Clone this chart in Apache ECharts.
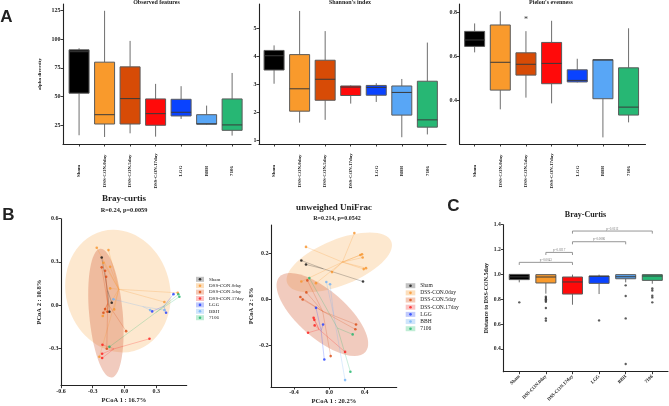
<!DOCTYPE html>
<html>
<head>
<meta charset="utf-8">
<title>Alpha and beta diversity</title>
<script src="https://cdn.jsdelivr.net/npm/echarts@6.0.0/dist/echarts.min.js"></script>
<style>
html, body { margin: 0; padding: 0; background: #fff; }
#chart { width: 669px; height: 406px; }
</style>
</head>
<body>
<div id="chart"></div>
<script>
// groups
var groupsA = ['Sham', 'DSS-CON.0day', 'DSS-CON.5day', 'DSS-CON.17day', 'LGG', 'BBH', '7106'];
var groupsC = ['Sham', 'DSS-CON.0day', 'DSS-CON.17day', 'LGG', 'BBH', '7106'];
var groupsCColour = [0, 1, 3, 4, 5, 6];

// panel A boxes: [min, q1, median, q3, max]
var observedBoxes = [
    [16.3, 52.9, 89.0, 90.6, 92.0],
    [14.8, 26.1, 34.2, 79.9, 124.6],
    [18.0, 26.1, 48.2, 75.8, 98.4],
    [15.1, 25.0, 35.1, 47.9, 61.0],
    [30.5, 33.1, 36.3, 47.6, 59.0],
    [25.5, 25.9, 26.3, 34.2, 42.1],
    [16.0, 20.6, 25.3, 47.9, 70.5]
];
var shannonBoxes = [
    [3.02, 3.51, 4.02, 4.21, 4.39],
    [1.63, 2.04, 2.84, 4.06, 5.62],
    [1.73, 2.43, 3.18, 3.86, 4.90],
    [2.31, 2.60, 2.90, 2.94, 2.96],
    [2.37, 2.61, 2.89, 2.96, 3.04],
    [1.11, 1.90, 2.71, 2.94, 3.19],
    [1.21, 1.47, 1.73, 3.11, 4.49]
];
var pielouBoxes = [
    [0.619, 0.646, 0.675, 0.714, 0.750],
    [0.361, 0.448, 0.574, 0.743, 0.805],
    [0.414, 0.516, 0.565, 0.617, 0.715],
    [0.388, 0.477, 0.569, 0.664, 0.762],
    [0.483, 0.485, 0.492, 0.540, 0.590],
    [0.234, 0.409, 0.584, 0.586, 0.586],
    [0.302, 0.335, 0.371, 0.549, 0.728]
];
var pielouOutliers = [[3, 0.771]];

// tick labels
var observedTicks = [25, 50, 75, 100, 125];
var shannonTicks = [1, 2, 3, 4, 5];
var pielouTicks = [0.4, 0.6, 0.8];
var brayTicksX = [-0.6, -0.3, 0.0, 0.3];
var brayTicksY = [-0.3, 0.0, 0.3, 0.6];
var unifracTicksX = [-0.4, 0.0, 0.4];
var unifracTicksY = [-0.2, 0.0, 0.2];
var distTicks = [0.4, 0.6, 0.8, 1.0, 1.2, 1.4];

// panel B PCoA points: [PCoA1, PCoA2, group]
var brayPoints = [
    [-0.262, 0.398, 1], [-0.151, 0.382, 1], [-0.215, 0.331, 0], [-0.199, 0.294, 1],
    [-0.135, 0.266, 1], [-0.215, 0.262, 2], [-0.183, 0.238, 2], [-0.173, 0.197, 2],
    [-0.135, 0.116, 1], [-0.104, 0.040, 5], [-0.120, 0.016, 0], [-0.142, -0.046, 0],
    [-0.161, -0.046, 2], [-0.183, -0.028, 2], [-0.097, -0.030, 1], [-0.199, -0.053, 2],
    [-0.205, -0.076, 1], [0.378, 0.021, 1], [0.464, 0.076, 4], [0.504, 0.085, 1],
    [0.520, 0.058, 6], [0.510, 0.075, 6], [0.243, -0.035, 5], [0.262, -0.044, 4],
    [0.378, -0.035, 5], [0.394, -0.053, 4], [0.016, -0.181, 2], [0.237, -0.234, 3],
    [-0.208, -0.276, 3], [-0.167, -0.303, 2], [-0.142, -0.290, 6], [-0.211, -0.338, 3],
    [-0.237, -0.359, 1], [-0.211, -0.368, 3]
];
var unifracPoints = [
    [0.283, 0.287, 1], [-0.264, 0.227, 1], [0.351, 0.192, 1], [0.370, 0.195, 1],
    [0.377, 0.181, 1], [-0.317, 0.168, 0], [-0.264, 0.151, 0], [0.389, 0.131, 1],
    [0.415, 0.135, 1], [0.030, 0.118, 1], [0.381, 0.077, 0], [-0.226, 0.092, 6],
    [-0.317, 0.077, 1], [-0.249, 0.082, 2], [-0.151, 0.070, 1], [-0.034, 0.075, 5],
    [0.008, 0.065, 5], [-0.260, 0.030, 2], [-0.328, 0.010, 2], [-0.302, -0.001, 2],
    [-0.151, -0.037, 4], [-0.178, -0.080, 3], [-0.170, -0.089, 3], [-0.166, -0.113, 3],
    [-0.071, -0.109, 4], [0.302, -0.109, 2], [0.294, -0.130, 2], [-0.241, -0.145, 3],
    [0.264, -0.152, 6], [0.178, -0.228, 3], [0.015, -0.246, 2], [-0.057, -0.261, 4],
    [0.238, -0.314, 6], [0.178, -0.350, 5]
];
// confidence ellipses: [centre x, centre y, semi-axis x, semi-axis y, rotation deg, group]
var brayEllipses = [[-0.061, 0.097, 0.492, 0.430, 15, 1], [-0.175, -0.056, 0.159, 0.449, 5, 2]];
var unifracEllipses = [[0.113, 0.160, 0.634, 0.099, 22, 1], [-0.079, -0.066, 0.646, 0.103, -41, 2]];

// panel C distance to DSS-CON.5day
var distBoxes = [
    [0.936, 0.958, 0.980, 1.000, 1.000],
    [0.845, 0.931, 0.979, 0.998, 0.998],
    [0.756, 0.842, 0.939, 0.979, 0.998],
    [0.842, 0.928, 0.985, 0.987, 0.998],
    [0.936, 0.965, 0.981, 0.998, 0.998],
    [0.925, 0.952, 0.987, 0.998, 0.998]
];
var distOutliers = [
    [1, 0.775], [2, 0.820], [2, 0.810], [2, 0.800], [2, 0.790], [2, 0.780], [2, 0.730],
    [2, 0.646], [2, 0.628], [4, 0.630], [5, 0.912], [5, 0.826], [5, 0.646], [5, 0.279],
    [6, 0.887], [6, 0.871], [6, 0.829], [6, 0.815], [6, 0.775]
];
// brackets: [from, to, height, label index]
var brackets = [[1, 3, 1.097, 0], [2, 3, 1.177, 1], [3, 5, 1.263, 2], [3, 6, 1.349, 3]];
var bracketLabels = ['p=0.0043', 'p=0.0217', 'p=0.0086', 'p=0.0112'];

// styles
var boxColors = ['#000000', '#f99a2c', '#d74b06', '#ff0a0a', '#0a43ff', '#58a6f6', '#27b774'];
var pointColors = ['#111111', '#f7942a', '#d9480f', '#ff1a1a', '#1f3cff', '#6fb0f5', '#1fb56b'];
var legendFill = ['#b3b3b3', '#fbd7ad', '#f2bca4', '#f9b5b5', '#b2bdfb', '#c3defa', '#b0e8cb'];
var ellipseFill = ['', 'rgba(250,188,118,0.35)', 'rgba(214,98,58,0.33)'];
var serif = 'Liberation Serif';
var ink = '#222';

function numAxis(grid, min, max, ticks, digits, labelSize, name, nameGap, nameSize) {
    return {
        gridIndex: grid, type: 'value', min: min, max: max,
        splitLine: { show: false },
        axisLine: { show: true, onZero: false, lineStyle: { color: ink, width: 1.1 } },
        axisTick: { show: true, customValues: ticks, length: 2.5, lineStyle: { color: ink, width: 0.9 } },
        axisLabel: {
            customValues: ticks, margin: 2.5, fontSize: labelSize, fontWeight: 'bold', color: ink, fontFamily: serif,
            formatter: function (v) { return digits == null ? String(v) : v.toFixed(digits); }
        },
        name: name || '', nameLocation: 'middle', nameGap: nameGap || 10,
        nameTextStyle: { fontSize: nameSize || 6, fontWeight: 'bold', color: ink, fontFamily: serif }
    };
}

function groupAxis(grid, min, max, names, rotate, margin, align, fontSize) {
    var pos = names.map(function (n, i) { return i + 1; });
    var label = {
        customValues: pos, rotate: rotate, margin: margin, fontSize: fontSize, fontWeight: 'bold',
        color: ink, fontFamily: serif,
        formatter: function (v) { return names[Math.round(v) - 1]; }
    };
    if (align) label.align = align;
    return {
        gridIndex: grid, type: 'value', min: min, max: max,
        splitLine: { show: false },
        axisLine: { show: true, onZero: false, lineStyle: { color: ink, width: 1.1 } },
        axisTick: { show: true, customValues: pos, length: 2.5, lineStyle: { color: ink, width: 0.9 } },
        axisLabel: label
    };
}

function boxRows(boxes, colourIdx) {
    return boxes.map(function (b, i) {
        return [i + 1].concat(b, [colourIdx ? colourIdx[i] : i]);
    });
}

function renderBox(params, api) {
    var x = api.value(0);
    var lo = api.coord([x, api.value(1)]);
    var q1 = api.coord([x, api.value(2)]);
    var md = api.coord([x, api.value(3)]);
    var q3 = api.coord([x, api.value(4)]);
    var hi = api.coord([x, api.value(5)]);
    var half = 10;
    return {
        type: 'group',
        children: [
            { type: 'line', shape: { x1: lo[0], y1: lo[1], x2: q1[0], y2: q1[1] }, style: { stroke: '#6e6e6e', lineWidth: 1 } },
            { type: 'line', shape: { x1: q3[0], y1: q3[1], x2: hi[0], y2: hi[1] }, style: { stroke: '#6e6e6e', lineWidth: 1 } },
            { type: 'rect', shape: { x: q3[0] - half, y: q3[1], width: half * 2, height: Math.max(q1[1] - q3[1], 0.6) },
              style: { fill: boxColors[api.value(6)], stroke: '#5a5a5a', lineWidth: 1 } },
            { type: 'line', shape: { x1: md[0] - half, y1: md[1], x2: md[0] + half, y2: md[1] }, style: { stroke: '#3a3a3a', lineWidth: 1 } }
        ]
    };
}

function renderEllipse(params, api) {
    var c = api.coord([api.value(0), api.value(1)]);
    var s = api.size([api.value(2), api.value(3)]);
    return {
        type: 'ellipse', x: c[0], y: c[1], rotation: api.value(4) * Math.PI / 180,
        shape: { cx: 0, cy: 0, rx: s[0], ry: s[1] },
        style: { fill: ellipseFill[api.value(5)] }
    };
}

function renderStar(params, api) {
    var p = api.coord([api.value(0), api.value(1)]);
    return { type: 'text', x: p[0], y: p[1] + 1.5,
        style: { text: '*', fontSize: 8, fontFamily: serif, fill: '#333', align: 'center', verticalAlign: 'middle' } };
}

function renderBracket(params, api) {
    var a = api.coord([api.value(0), api.value(2)]);
    var b = api.coord([api.value(1), api.value(2)]);
    var drop = 2.6;
    return {
        type: 'group',
        children: [
            { type: 'polyline', shape: { points: [[a[0], a[1] + drop], [a[0], a[1]], [b[0], b[1]], [b[0], b[1] + drop]] },
              style: { stroke: '#8a8a8a', lineWidth: 0.9, fill: 'none' } },
            { type: 'text', x: (a[0] + b[0]) / 2, y: a[1] - 0.8,
              style: { text: bracketLabels[api.value(3)], fontSize: 3.2, fontFamily: serif, fill: '#777', align: 'center', verticalAlign: 'bottom' } }
        ]
    };
}

function spiderLines(points, g) {
    var pts = points.filter(function (p) { return p[2] === g; });
    var cx = 0, cy = 0;
    pts.forEach(function (p) { cx += p[0]; cy += p[1]; });
    cx /= pts.length; cy /= pts.length;
    return pts.map(function (p) { return { coords: [[p[0], p[1]], [cx, cy]] }; });
}

var series = [];

// panel A
[observedBoxes, shannonBoxes, pielouBoxes].forEach(function (boxes, k) {
    series.push({
        type: 'custom', xAxisIndex: k, yAxisIndex: k, renderItem: renderBox,
        encode: { x: 0, y: [1, 2, 3, 4, 5] }, data: boxRows(boxes), silent: true
    });
});
series.push({ type: 'custom', xAxisIndex: 2, yAxisIndex: 2, renderItem: renderStar, encode: { x: 0, y: 1 }, data: pielouOutliers, silent: true });

// panel B
function addPcoa(points, ellipses, axisIdx) {
    series.push({
        type: 'custom', xAxisIndex: axisIdx, yAxisIndex: axisIdx, renderItem: renderEllipse,
        encode: { x: 0, y: 1 }, data: ellipses, silent: true, z: 1
    });
    groupsA.forEach(function (name, g) {
        series.push({
            type: 'lines', coordinateSystem: 'cartesian2d', xAxisIndex: axisIdx, yAxisIndex: axisIdx,
            data: spiderLines(points, g), silent: true, z: 2,
            lineStyle: { color: pointColors[g], width: 0.6, opacity: 0.4 }
        });
        series.push({
            type: 'scatter', name: name, xAxisIndex: axisIdx, yAxisIndex: axisIdx, z: 3,
            symbol: 'circle', symbolSize: 2.6, itemStyle: { color: pointColors[g] },
            data: points.filter(function (p) { return p[2] === g; }).map(function (p) { return [p[0], p[1]]; })
        });
    });
}
addPcoa(brayPoints, brayEllipses, 3);
addPcoa(unifracPoints, unifracEllipses, 4);

// panel C
series.push({
    type: 'custom', xAxisIndex: 5, yAxisIndex: 5, renderItem: renderBox,
    encode: { x: 0, y: [1, 2, 3, 4, 5] }, data: boxRows(distBoxes, groupsCColour), silent: true
});
series.push({
    type: 'scatter', xAxisIndex: 5, yAxisIndex: 5, symbolSize: 2.4, itemStyle: { color: '#333' },
    data: distOutliers, silent: true
});
series.push({
    type: 'custom', xAxisIndex: 5, yAxisIndex: 5, renderItem: renderBracket,
    encode: { x: [0, 1], y: 2 }, data: brackets, silent: true
});

function legendPair(left, top, boxW, boxH, rowH, fontSize) {
    var common = {
        orient: 'vertical', top: top, padding: 0, itemGap: 0,
        textStyle: { fontSize: fontSize, lineHeight: rowH, fontFamily: serif, color: ink }
    };
    var boxes = Object.assign({}, common, {
        left: left, icon: 'rect', itemWidth: boxW, itemHeight: boxH,
        data: groupsA.map(function (n, g) { return { name: n, itemStyle: { color: legendFill[g] } }; })
    });
    var dots = Object.assign({}, common, {
        left: left + boxW / 2 - 1.3, icon: 'circle', itemWidth: 2.6, itemHeight: 2.6,
        textStyle: { fontSize: fontSize, lineHeight: rowH, fontFamily: serif, color: 'rgba(0,0,0,0)' },
        data: groupsA.map(function (n, g) { return { name: n, itemStyle: { color: pointColors[g] } }; })
    });
    return [boxes, dots];
}

function label(text, x, y, size, weight, family) {
    return {
        type: 'text', x: x, y: y, silent: true,
        style: { text: text, fontSize: size, fontWeight: weight || 'bold', fontFamily: family || serif,
                 fill: ink, align: 'center', verticalAlign: 'middle' }
    };
}

var option = {
    animation: false,
    backgroundColor: '#fff',
    textStyle: { fontFamily: serif },
    grid: [
        { left: 63, top: 4, width: 188, height: 140 },
        { left: 259, top: 4, width: 187, height: 140 },
        { left: 459.5, top: 4, width: 186, height: 140 },
        { left: 61, top: 218.7, width: 125.7, height: 167 },
        { left: 271, top: 225, width: 125.7, height: 163.3 },
        { left: 503.3, top: 224.7, width: 164.7, height: 147 }
    ],
    xAxis: [
        groupAxis(0, 0.37, 7.74, groupsA, 90, 27, 'center', 4.9),
        groupAxis(1, 0.41, 7.73, groupsA, 90, 27, 'center', 4.9),
        groupAxis(2, 0.41, 7.66, groupsA, 90, 27, 'center', 4.9),
        numAxis(3, -0.6, 0.589, brayTicksX, 1, 6, 'PCoA 1 : 16.7%', 11, 6.5),
        numAxis(4, -0.66, 0.762, unifracTicksX, 1, 6, 'PCoA 1 : 20.2%', 11, 6.5),
        groupAxis(5, 0.4, 6.59, groupsC, 45, 4, null, 4.8)
    ],
    yAxis: [
        numAxis(0, 8.7, 130.5, observedTicks, null, 6, 'alpha diversity', 20.5, 5),
        numAxis(1, 0.868, 5.868, shannonTicks, null, 6),
        numAxis(2, 0.204, 0.838, pielouTicks, 1, 6),
        numAxis(3, -0.56, 0.6, brayTicksY, 1, 6, 'PCoA 2 : 10.8%', 17.7, 6.5),
        numAxis(4, -0.38, 0.322, unifracTicksY, 1, 6, 'PCoA 2 : 8%', 16, 6.5),
        numAxis(5, 0.217, 1.4, distTicks, 1, 5.6, 'Distance to DSS-CON.5day', 12.3, 6)
    ],
    legend: legendPair(196, 276.1, 8, 5, 6.4, 5).concat(legendPair(405.7, 282.1, 9.6, 5, 7.17, 5.5)),
    graphic: [
        label('A', 6.5, 17, 17, 'bold', 'Liberation Sans'),
        label('B', 8.3, 215, 17, 'bold', 'Liberation Sans'),
        label('C', 453.3, 206.7, 17, 'bold', 'Liberation Sans'),
        label('Observed features', 156.5, 2, 6),
        label("Shannon's index", 350, 2, 6),
        label("Pielou's evenness", 551, 2, 6),
        label('Bray-curtis', 124, 199, 9),
        label('R=0.24, p=0.0059', 124, 210.7, 6.3),
        label('unweighed UniFrac', 334, 207.7, 9),
        label('R=0.214, p=0.0542', 337, 218.3, 6),
        label('Bray-Curtis', 585.5, 215, 8)
    ],
    series: series
};

var chart = echarts.init(document.getElementById('chart'));
chart.setOption(option);
</script>
</body>
</html>
